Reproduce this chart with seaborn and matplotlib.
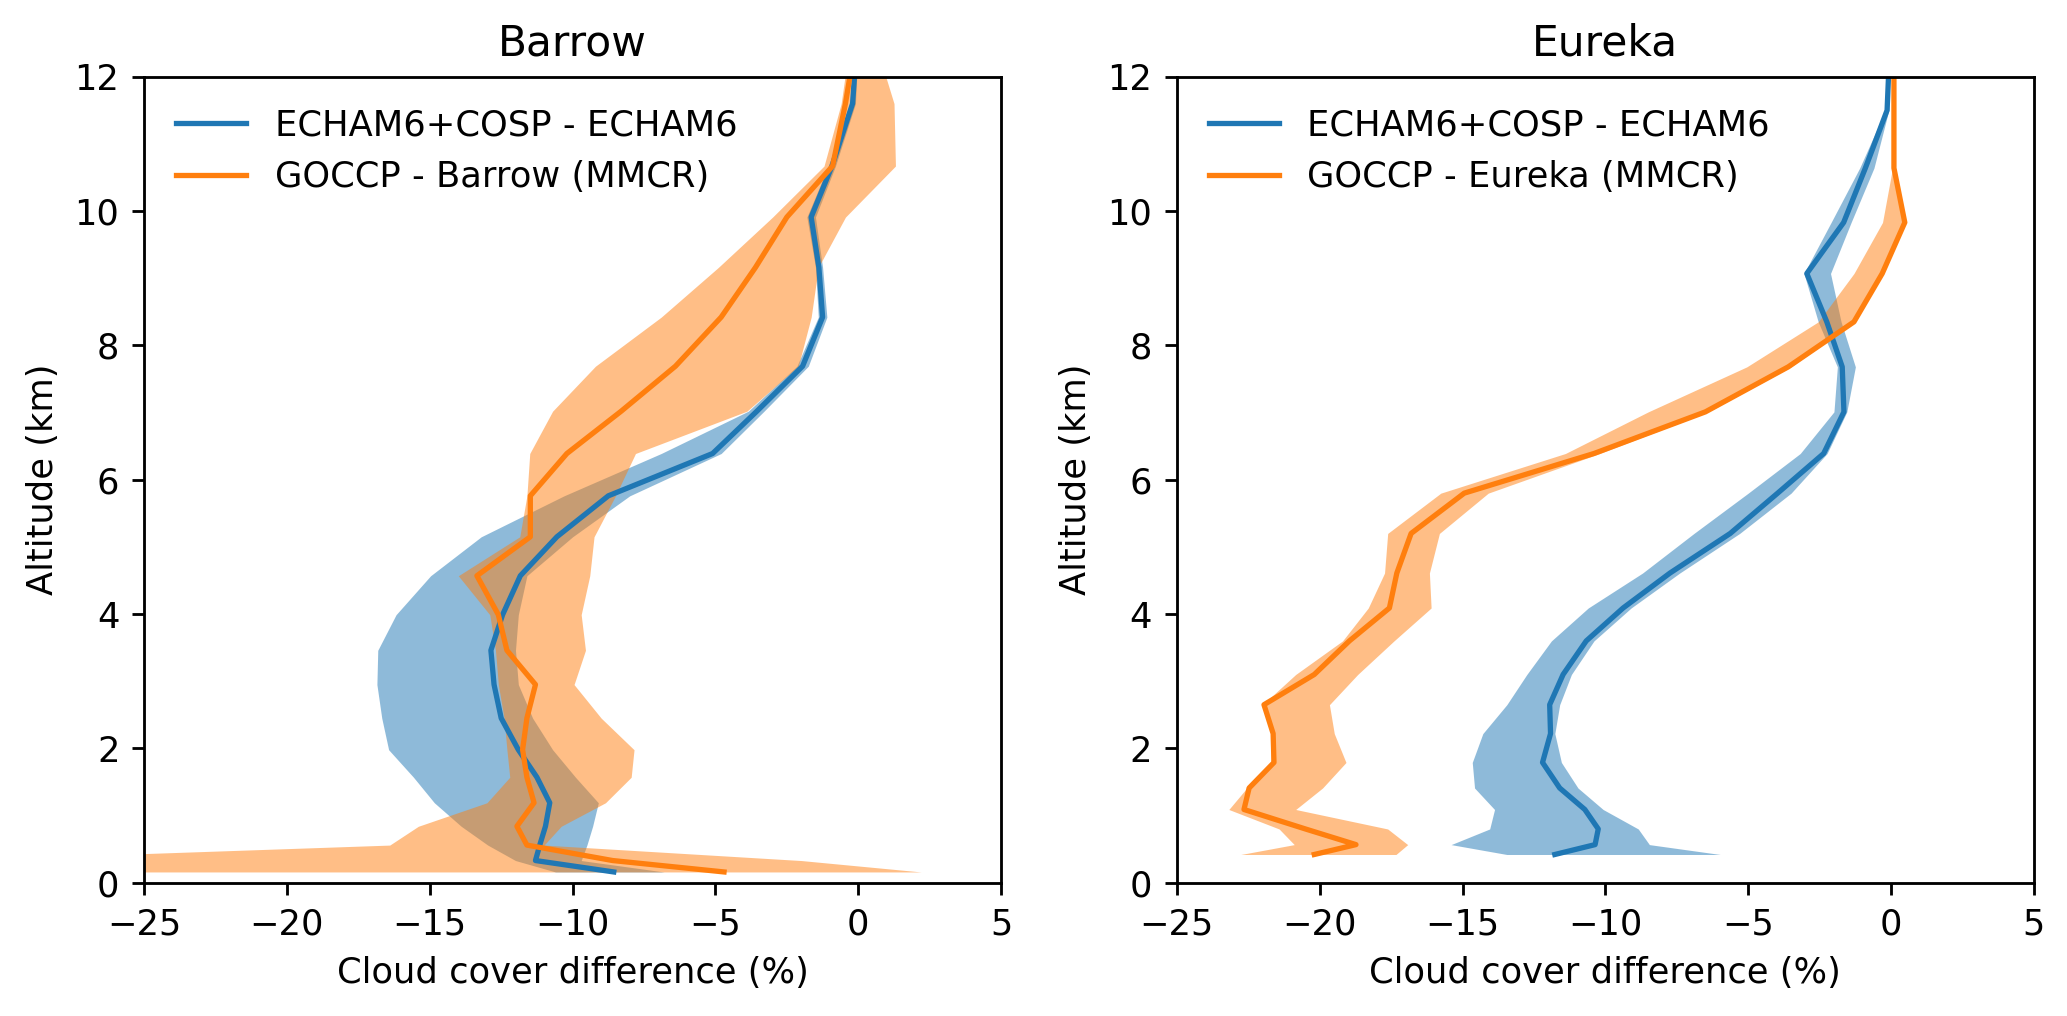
import numpy as np
import pandas as pd
import seaborn as sns
import matplotlib
matplotlib.use('Agg')
import matplotlib.pyplot as plt

# model levels (km)
levels_barrow = [0.16, 0.33, 0.56, 0.84, 1.19, 1.57, 1.98, 2.45, 2.95, 3.46, 3.99, 4.57,
                 5.15, 5.76, 6.39, 7.02, 7.69, 8.42, 9.16, 9.91, 10.67, 11.6, 12.5]
levels_eureka = [0.42, 0.567, 0.80, 1.09, 1.41, 1.79, 2.22, 2.65, 3.10, 3.60, 4.09, 4.61,
                 5.20, 5.80, 6.39, 7.01, 7.68, 8.35, 9.07, 9.83, 10.64, 11.5, 12.4]

# Barrow: ECHAM6+COSP - ECHAM6
model_barrow = [-8.56, -11.3, -11.15, -10.95, -10.8, -11.25, -11.9, -12.5, -12.75, -12.86, -12.45, -11.83,
                -10.55, -8.75, -5.1, -3.55, -1.95, -1.25, -1.38, -1.65, -0.92, -0.2, -0.05]
model_barrow_lo = [-10.6, -12.0, -12.97, -13.9, -14.84, -15.57, -16.44, -16.68, -16.85, -16.82, -16.18, -14.97,
                   -13.2, -10.3, -6.9, -3.85, -2.15, -1.4, -1.5, -1.8, -1.05, -0.3, -0.1]
model_barrow_hi = [-6.8, -9.7, -9.5, -9.3, -9.1, -9.9, -10.7, -11.4, -11.9, -12.0, -11.9, -11.6,
                   -10.0, -8.0, -4.8, -3.3, -1.75, -1.1, -1.25, -1.5, -0.8, -0.1, 0.0]

# Barrow: GOCCP - Barrow (MMCR)
obs_barrow = [-4.7, -8.6, -11.6, -11.95, -11.35, -11.6, -11.75, -11.6, -11.3, -12.3, -12.6, -13.35,
              -11.48, -11.48, -10.2, -8.3, -6.4, -4.8, -3.6, -2.5, -0.9, -0.45, -0.1]
obs_barrow_lo = [-32.0, -32.0, -16.4, -15.4, -13.0, -12.2, -12.3, -12.4, -12.6, -12.7, -12.9, -14.0,
                 -11.85, -11.6, -11.5, -10.7, -9.2, -6.9, -4.9, -3.0, -1.2, -0.6, -0.3]
obs_barrow_hi = [2.2, -2.0, -11.0, -10.4, -8.85, -7.95, -7.85, -9.0, -9.95, -9.55, -9.7, -9.4,
                 -9.25, -8.5, -7.8, -3.9, -2.1, -1.65, -1.4, -0.45, 1.3, 1.25, 0.6]

# Eureka: ECHAM6+COSP - ECHAM6
model_eureka = [-11.77, -10.36, -10.25, -10.72, -11.6, -12.2, -11.92, -11.95, -11.48, -10.67, -9.38, -7.74,
                -5.63, -3.97, -2.36, -1.65, -1.71, -2.25, -2.95, -1.66, -0.9, -0.14, -0.05]
model_eureka_lo = [-13.45, -15.4, -14.05, -13.88, -14.58, -14.66, -14.29, -13.45, -12.75, -11.89, -10.6, -8.7,
                   -6.9, -5.0, -3.18, -2.0, -1.88, -2.55, -3.05, -2.1, -1.1, -0.2, -0.06]
model_eureka_hi = [-5.98, -8.46, -8.85, -10.08, -10.96, -11.54, -11.77, -11.6, -11.19, -10.4, -9.1, -7.4,
                   -5.3, -3.5, -2.24, -1.55, -1.25, -1.75, -2.12, -1.4, -0.6, -0.08, -0.04]

# Eureka: GOCCP - Eureka (MMCR)
obs_eureka = [-20.19, -18.73, -20.5, -22.65, -22.47, -21.6, -21.63, -21.95, -20.19, -18.96, -17.56, -17.3,
              -16.8, -14.94, -10.4, -6.5, -3.6, -1.3, -0.31, 0.48, 0.10, 0.10, 0.10]
obs_eureka_lo = [-22.76, -20.89, -21.42, -23.18, -22.55, -21.71, -21.71, -22.0, -20.84, -19.2, -18.3, -17.73,
                 -17.62, -15.76, -11.4, -8.5, -5.05, -2.55, -1.3, -0.3, 0.05, 0.08, 0.08]
obs_eureka_hi = [-17.33, -16.92, -17.62, -20.84, -19.9, -19.08, -19.49, -19.66, -18.67, -17.4, -16.1, -16.16,
                 -15.81, -14.1, -10.2, -6.4, -3.5, -1.25, -0.28, 0.5, 0.12, 0.1, 0.1]

stations = ['Barrow', 'Eureka']
model_label = 'ECHAM6+COSP - ECHAM6'

panels = [
    (levels_barrow, model_barrow, model_barrow_lo, model_barrow_hi, obs_barrow, obs_barrow_lo, obs_barrow_hi),
    (levels_eureka, model_eureka, model_eureka_lo, model_eureka_hi, obs_eureka, obs_eureka_lo, obs_eureka_hi),
]

blue = '#1f77b4'
orange = '#ff7f0e'

fig, axes = plt.subplots(1, 2, figsize=(2067 / 254, 1016 / 254))
fig.subplots_adjust(left=0.0697, right=0.984, bottom=0.1312, top=0.9245, wspace=0.205)

for ax, name, (lev, mod, mod_lo, mod_hi, obs, obs_lo, obs_hi) in zip(axes, stations, panels):
    df = pd.DataFrame({'alt': lev, 'model': mod, 'obs': obs})
    ax.fill_betweenx(lev, mod_lo, mod_hi, color=blue, alpha=0.5, linewidth=0)
    ax.fill_betweenx(lev, obs_lo, obs_hi, color=orange, alpha=0.5, linewidth=0)
    sns.lineplot(data=df, x='model', y='alt', sort=False, estimator=None, color=blue,
                 linewidth=1.5, label=model_label, ax=ax)
    sns.lineplot(data=df, x='obs', y='alt', sort=False, estimator=None, color=orange,
                 linewidth=1.5, label='GOCCP - ' + name + ' (MMCR)', ax=ax)
    ax.set_xlim(-25, 5)
    ax.set_ylim(0, 12)
    ax.set_title(name)
    ax.set_xlabel('Cloud cover difference (%)')
    ax.set_ylabel('Altitude (km)')
    ax.legend(loc='upper left', frameon=False)

fig.savefig('out.png', dpi=254)
